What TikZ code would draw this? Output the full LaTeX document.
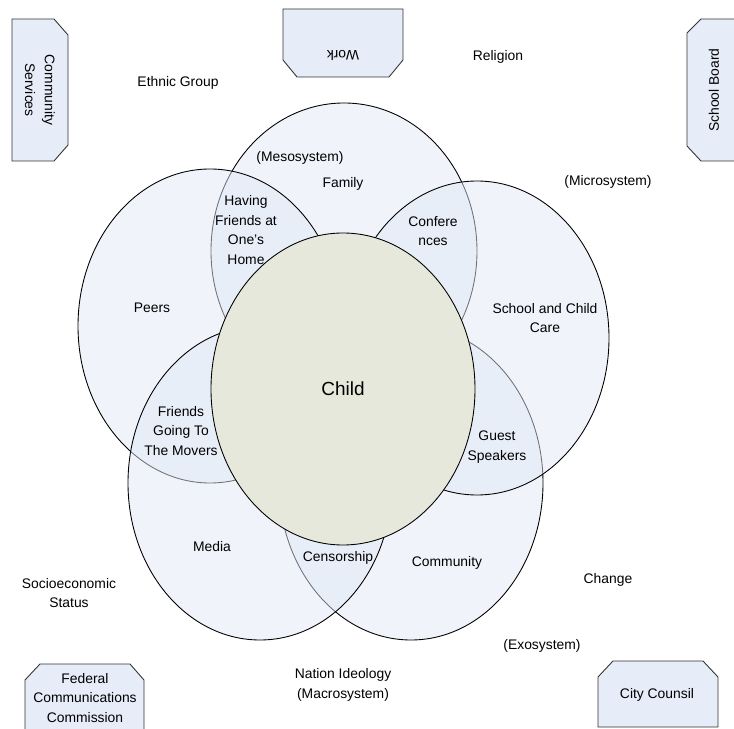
\documentclass[tikz,border=0pt]{standalone}
\usepackage{fontspec}
\setmainfont{Liberation Sans}
\usepackage{tikz}
\usetikzlibrary{calc}

\definecolor{sysfill}{RGB}{225,232,245}
\definecolor{childfill}{RGB}{231,232,220}
\definecolor{boxfill}{RGB}{230,236,248}

\begin{document}
\begin{tikzpicture}[x=0.02cm, y=-0.02cm,
    sys/.style={draw=black, line width=0.5pt, fill=sysfill, fill opacity=0.5},
    lbl/.style={align=center, inner sep=0pt, font=\fontsize{7.9}{11.3}\selectfont},
    boxshape/.style={draw=black!80, line width=0.5pt, fill=boxfill}]
\path[use as bounding box, clip] (0,0) rectangle (734,729);

% Microsystem circles
\draw[sys] (344,251) ellipse [x radius=133, y radius=148];
\draw[sys] (411,483) ellipse [x radius=132, y radius=157];
\draw[sys] (477,338) ellipse [x radius=132, y radius=157];
\draw[sys] (210,326) ellipse [x radius=132, y radius=157];
\draw[sys] (260,483) ellipse [x radius=132, y radius=157];

% Child
\draw[line width=0.5pt, fill=childfill] (343,389) ellipse [x radius=132, y radius=156];

% Exosystem boxes
\draw[boxshape] (12,19) -- (54,19) -- (68,35) -- (68,145) -- (54,161) -- (12,161) -- cycle;
\draw[boxshape] (283,9) -- (403,9) -- (403,60) -- (389,77) -- (297,77) -- (283,60) -- cycle;
\draw[boxshape] (701,19) -- (745,19) -- (745,161) -- (701,161) -- (687,146) -- (687,33) -- cycle;
\draw[boxshape] (40,664) -- (130,664) -- (144,680) -- (144,740) -- (25,740) -- (25,680) -- cycle;
\draw[boxshape] (613,661) -- (703,661) -- (718,677) -- (718,727) -- (598,727) -- (598,677) -- cycle;

\node[lbl, rotate=-90] (commserv) at (40,90) {Community\\Services};
\node[lbl, rotate=180] (work) at (343,55) {Work};
\node[lbl, rotate=90] (schoolboard) at (714,90) {School Board};
\node[lbl] (fcc) at (85,698) {Federal\\Communications\\Commission};
\node[lbl] (citycounsil) at (657,695) {City Counsil};

% labels
\node[lbl] (ethnic) at (178,83) {Ethnic Group};
\node[lbl] (religion) at (498,57) {Religion};
\node[lbl] (meso) at (300,158) {(Mesosystem)};
\node[lbl] (family) at (343,184) {Family};
\node[lbl] (havingfriends) at (246,230) {Having\\Friends at\\One’s\\Home};
\node[lbl] (conferences) at (433,231) {Confere\\nces};
\node[lbl] (micro) at (608,182) {(Microsystem)};
\node[lbl] (peers) at (152,308) {Peers};
\node[lbl] (school) at (545,318) {School and Child\\Care};
\node[align=center, inner sep=0pt, font=\fontsize{10.8}{13}\selectfont] (child) at (343,389) {Child};
\node[lbl] (movers) at (181,431) {Friends\\Going To\\The Movers};
\node[lbl] (guest) at (497,447) {Guest\\Speakers};
\node[lbl] (media) at (212,547) {Media};
\node[lbl] (censorship) at (338,558) {Censorship};
\node[lbl] (community) at (447,563) {Community};
\node[lbl] (change) at (608,580) {Change};
\node[lbl] (socio) at (69,593) {Socioeconomic\\Status};
\node[lbl] (exo) at (542,646) {(Exosystem)};
\node[lbl] (nation) at (343,685) {Nation Ideology\\(Macrosystem)};
\end{tikzpicture}
\end{document}
